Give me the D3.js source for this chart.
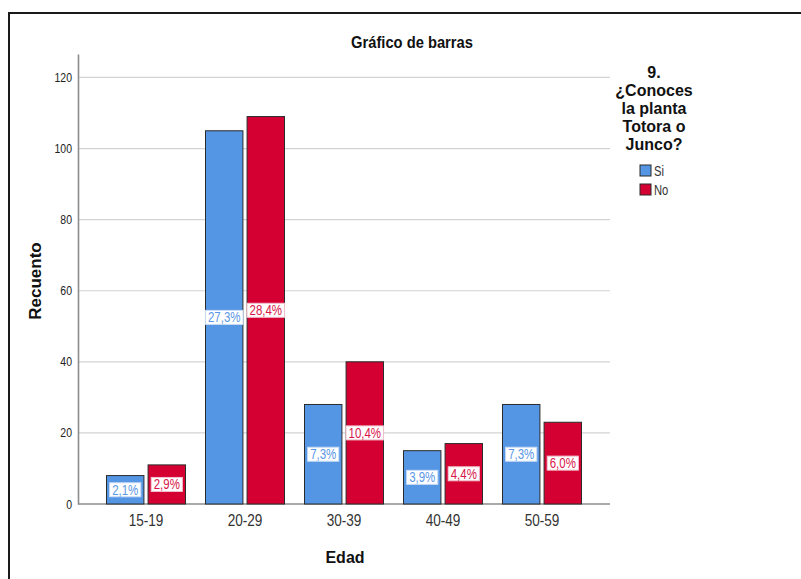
<!DOCTYPE html>
<html>
<head>
<meta charset="utf-8">
<script src="https://cdn.jsdelivr.net/npm/d3@7/dist/d3.min.js"></script>
<style>
  body { margin: 0; background: #fff; }
  svg { display: block; }
  text { font-family: "Liberation Sans", Arial, sans-serif; }
</style>
</head>
<body>
<svg id="chart" width="801" height="579"></svg>
<script>
// Age groups and answer counts
const categories = ["15-19", "20-29", "30-39", "40-49", "50-59"];
const seriesNames = ["Si", "No"];
const siValues = [8, 105, 28, 15, 28];
const noValues = [11, 109, 40, 17, 23];
const yTicks = [0, 20, 40, 60, 80, 100, 120];
const legendTitleLines = ["9.", "¿Conoces", "la planta", "Totora o", "Junco?"];

const colors = { Si: "#5596e4", No: "#d50032" };
const labelColors = { Si: "#5b97e6", No: "#d8164a" };
const labelStroke = { Si: "#c9dcf6", No: "#f2c2cf" };

const svg = d3.select("#chart");
const total = d3.sum(siValues) + d3.sum(noValues);
const fmtPct = v => d3.format(".1f")(v * 100).replace(".", ",") + "%";

// Condensed look: squeeze text horizontally around its anchor
function narrow(sel, k) {
  sel.each(function() {
    const t = d3.select(this);
    const x0 = +(t.attr("x") || 0);
    t.attr("x", x0 / k).attr("transform", `scale(${k},1)`);
  });
}

const rows = categories.map((c, i) => ({
  cat: c,
  items: [
    { key: "Si", value: siValues[i] },
    { key: "No", value: noValues[i] }
  ]
}));

// Outer frame (top and left edges)
svg.append("path")
  .attr("d", "M9,579 V13 H801")
  .attr("fill", "none")
  .attr("stroke", "#1a1a1a")
  .attr("stroke-width", 2);

const plotLeft = 78, plotRight = 610, baseY = 504;
const y = d3.scaleLinear().domain([0, 126.6]).range([baseY, 54]);
const x = d3.scaleBand().domain(categories).range([96.5, 591.5]);
const xInner = d3.scaleBand().domain(seriesNames).range([10, 89]).paddingInner(0.1);

// Horizontal gridlines
svg.append("g")
  .selectAll("line")
  .data(yTicks.filter(t => t > 0))
  .join("line")
  .attr("x1", plotLeft).attr("x2", plotRight)
  .attr("y1", d => y(d)).attr("y2", d => y(d))
  .attr("stroke", "#d3d3d3")
  .attr("stroke-width", 1.2);

// Y axis
const yAxis = svg.append("g")
  .attr("transform", `translate(${plotLeft},0)`)
  .call(d3.axisLeft(y).tickValues(yTicks).tickSize(0).tickPadding(6));
yAxis.select(".domain").attr("stroke", "#8c8c8c").attr("stroke-width", 1.6);
yAxis.selectAll("text")
  .attr("font-size", 12.5).attr("fill", "#222")
  .call(narrow, 0.84);

// X axis
const xAxis = svg.append("g")
  .attr("transform", `translate(0,${baseY})`)
  .call(d3.axisBottom(x).tickSize(0).tickPadding(11));
xAxis.select(".domain").remove();
xAxis.append("line")
  .attr("x1", plotLeft).attr("x2", plotRight)
  .attr("y1", 0).attr("y2", 0)
  .attr("stroke", "#8c8c8c").attr("stroke-width", 1.6);
xAxis.selectAll(".tick text")
  .attr("font-size", 16).attr("fill", "#333")
  .call(narrow, 0.85);

// Bars
const groups = svg.append("g")
  .selectAll("g")
  .data(rows)
  .join("g")
  .attr("transform", d => `translate(${x(d.cat)},0)`);

groups.selectAll("rect")
  .data(d => d.items)
  .join("rect")
  .attr("x", d => xInner(d.key))
  .attr("y", d => y(d.value))
  .attr("width", xInner.bandwidth())
  .attr("height", d => baseY - y(d.value))
  .attr("fill", d => colors[d.key])
  .attr("stroke", "#2b2b2b")
  .attr("stroke-width", 1);

// Percentage labels in white boxes at mid-bar
const kLbl = 0.82;
const labels = groups.selectAll("g.lbl")
  .data(d => d.items)
  .join("g")
  .attr("class", "lbl")
  .attr("transform", d => `translate(${xInner(d.key) + xInner.bandwidth() / 2},${y(d.value / 2)})`);

labels.append("text")
  .attr("text-anchor", "middle")
  .attr("dy", "0.36em")
  .attr("font-size", 14)
  .attr("fill", d => labelColors[d.key])
  .text(d => fmtPct(d.value / total))
  .call(narrow, kLbl);

labels.each(function(d) {
  const g = d3.select(this);
  const w = g.select("text").node().getBBox().width * kLbl;
  g.insert("rect", "text")
    .attr("x", -w / 2 - 2.5)
    .attr("y", -7)
    .attr("width", w + 5)
    .attr("height", 14)
    .attr("fill", "#fff")
    .attr("stroke", labelStroke[d.key])
    .attr("stroke-width", 1);
});

// Titles
svg.append("text")
  .attr("x", 412).attr("y", 48)
  .attr("text-anchor", "middle")
  .attr("font-size", 16).attr("font-weight", "bold").attr("fill", "#111")
  .text("Gráfico de barras")
  .call(narrow, 0.92);

svg.append("text")
  .attr("transform", "translate(41,281) rotate(-90)")
  .attr("text-anchor", "middle")
  .attr("font-size", 17).attr("font-weight", "bold").attr("fill", "#111")
  .text("Recuento");

svg.append("text")
  .attr("x", 345).attr("y", 563)
  .attr("text-anchor", "middle")
  .attr("font-size", 16).attr("font-weight", "bold").attr("fill", "#111")
  .text("Edad");

// Legend
const legend = svg.append("g");
legend.selectAll("text.lt")
  .data(legendTitleLines)
  .join("text")
  .attr("class", "lt")
  .attr("x", 654)
  .attr("y", (d, i) => 78 + i * 18)
  .attr("text-anchor", "middle")
  .attr("font-size", 16).attr("font-weight", "bold").attr("fill", "#111")
  .text(d => d);

const items = legend.selectAll("g.li")
  .data(seriesNames)
  .join("g")
  .attr("class", "li")
  .attr("transform", (d, i) => `translate(640,${165 + i * 19})`);
items.append("rect")
  .attr("width", 11).attr("height", 11)
  .attr("fill", d => colors[d])
  .attr("stroke", "#2b2b2b").attr("stroke-width", 1);
items.append("text")
  .attr("x", 14).attr("y", 10.5)
  .attr("font-size", 14).attr("fill", "#333")
  .text(d => d)
  .call(narrow, 0.8);
</script>
</body>
</html>
